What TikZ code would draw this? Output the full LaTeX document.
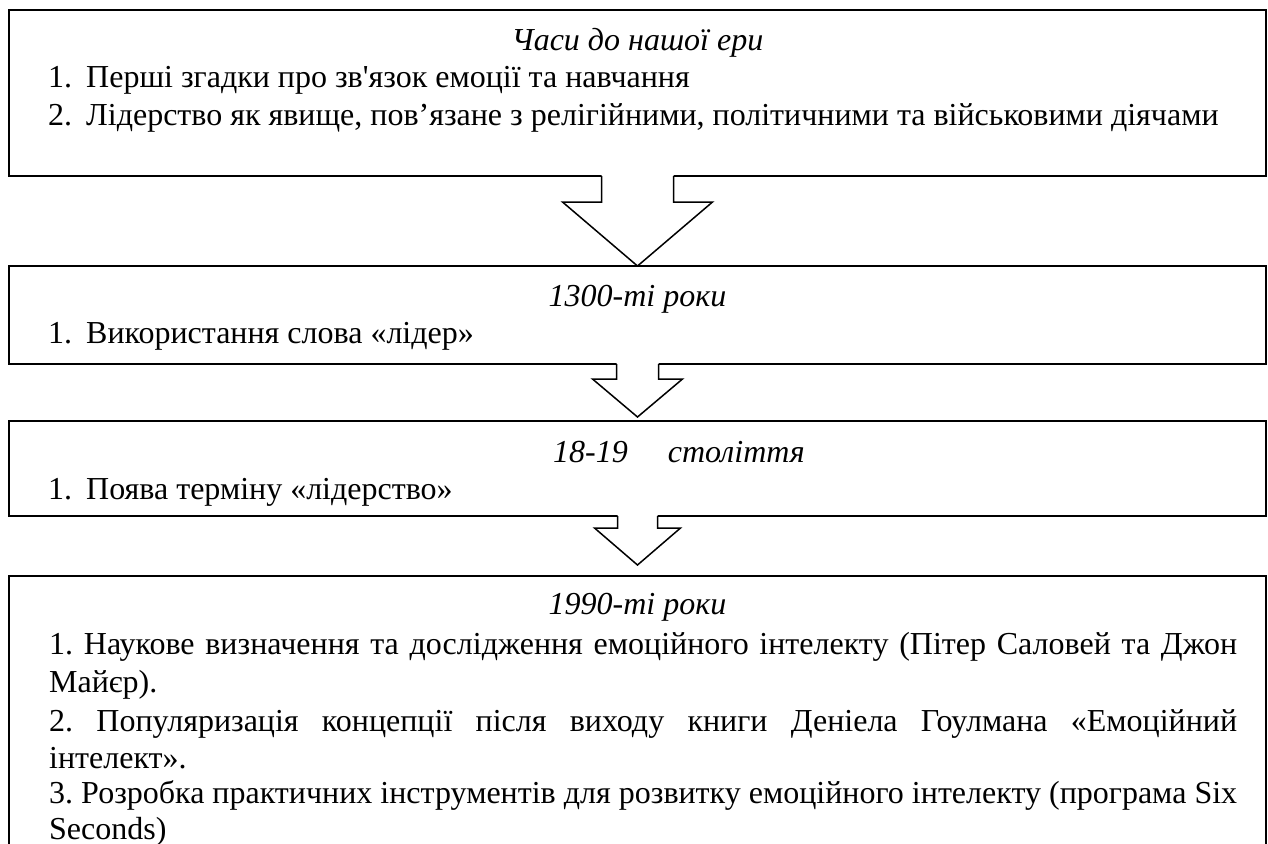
\documentclass[tikz,border=0pt]{standalone}
\usepackage{fontspec}
\setmainfont{Liberation Serif}
\newfontfamily\nolig{Liberation Serif}[Ligatures=TeXOff]
\usetikzlibrary{calc}
\newcommand\blkarrow[5]{%
  \fill[white] ($(#1)+(-#2,-2)$) -- ($(#1)+(-#2,#4)$) -- ($(#1)+(-#3,#4)$) -- ($(#1)+(0,#5)$) -- ($(#1)+(#3,#4)$) -- ($(#1)+(#2,#4)$) -- ($(#1)+(#2,-2)$) -- cycle;
  \draw[blk] ($(#1)+(-#2,0)$) -- ($(#1)+(-#2,#4)$) -- ($(#1)+(-#3,#4)$) -- ($(#1)+(0,#5)$) -- ($(#1)+(#3,#4)$) -- ($(#1)+(#2,#4)$) -- ($(#1)+(#2,0)$);}
\begin{document}
\begin{tikzpicture}[x=1pt,y=-1pt,
  box/.style={draw, line width=1.5pt, fill=white, minimum width=1257pt, inner sep=0pt, outer sep=0pt},
  ttl/.style={anchor=base, inner sep=0pt, font=\fontsize{32}{38}\selectfont\frenchspacing\itshape},
  txt/.style={anchor=base west, inner sep=0pt, font=\fontsize{32}{38}\selectfont\frenchspacing},
  blk/.style={draw, line width=1.5pt, line join=miter}]
\useasboundingbox (0,0) rectangle (1268,843);
\clip (0,0) rectangle (1268,843);
\fill[white] (0,0) rectangle (1268,843);
% boxes
\node[box, minimum height=166pt] (b1) at (637.5,93) {};
\node[box, minimum height=98pt] (b2) at (637.5,315) {};
\node[box, minimum height=95pt] (b3) at (637.5,468.5) {};
\node[box, minimum height=300pt] (b4) at (637.5,726) {};
% block arrows
\blkarrow{b1.south}{36}{75}{26}{90}
\blkarrow{b2.south}{21}{45}{15}{53}
\blkarrow{b3.south}{20}{43}{12}{49}
% box 1
\node[ttl] (t1) at (637.5,51) {Часи до нашої ери};
\node[txt] (n11) at (48,88) {1.};
\node[txt] (l11) at (86,88) {Перші згадки про зв{\nolig'}язок емоції та навчання};
\node[txt] (n12) at (48,125) {2.};
\node[txt] (l12) at (86,125) {Лідерство як явище, пов’язане з релігійними, політичними та військовими діячами};
% box 2
\node[ttl] (t2) at (637.5,306) {1300-ті роки};
\node[txt] (n21) at (48,343) {1.};
\node[txt] (l21) at (86,343) {Використання слова «лідер»};
% box 3
\node[ttl, anchor=base west] (t3) at (553,462) {18-19\hspace{40pt}століття};
\node[txt] (n31) at (48,499) {1.};
\node[txt] (l31) at (86,499) {Поява терміну «лідерство»};
% box 4
\node[ttl] (t4) at (637.5,614) {1990-ті роки};
\node[txt] (l41) at (49,654) {\makebox[1188pt][s]{1. Наукове визначення та дослідження емоційного інтелекту (Пітер Саловей та Джон}};
\node[txt] (l42) at (49,692) {Майєр).};
\node[txt] (l43) at (49,731) {\makebox[1188pt][s]{2. Популяризація концепції після виходу книги Деніела Гоулмана «Емоційний}};
\node[txt] (l44) at (49,768) {інтелект».};
\node[txt] (l45) at (49,803) {\makebox[1188pt][s]{3. Розробка практичних інструментів для розвитку емоційного інтелекту (програма Six}};
\node[txt] (l46) at (49,839) {Seconds)};
\end{tikzpicture}
\end{document}
